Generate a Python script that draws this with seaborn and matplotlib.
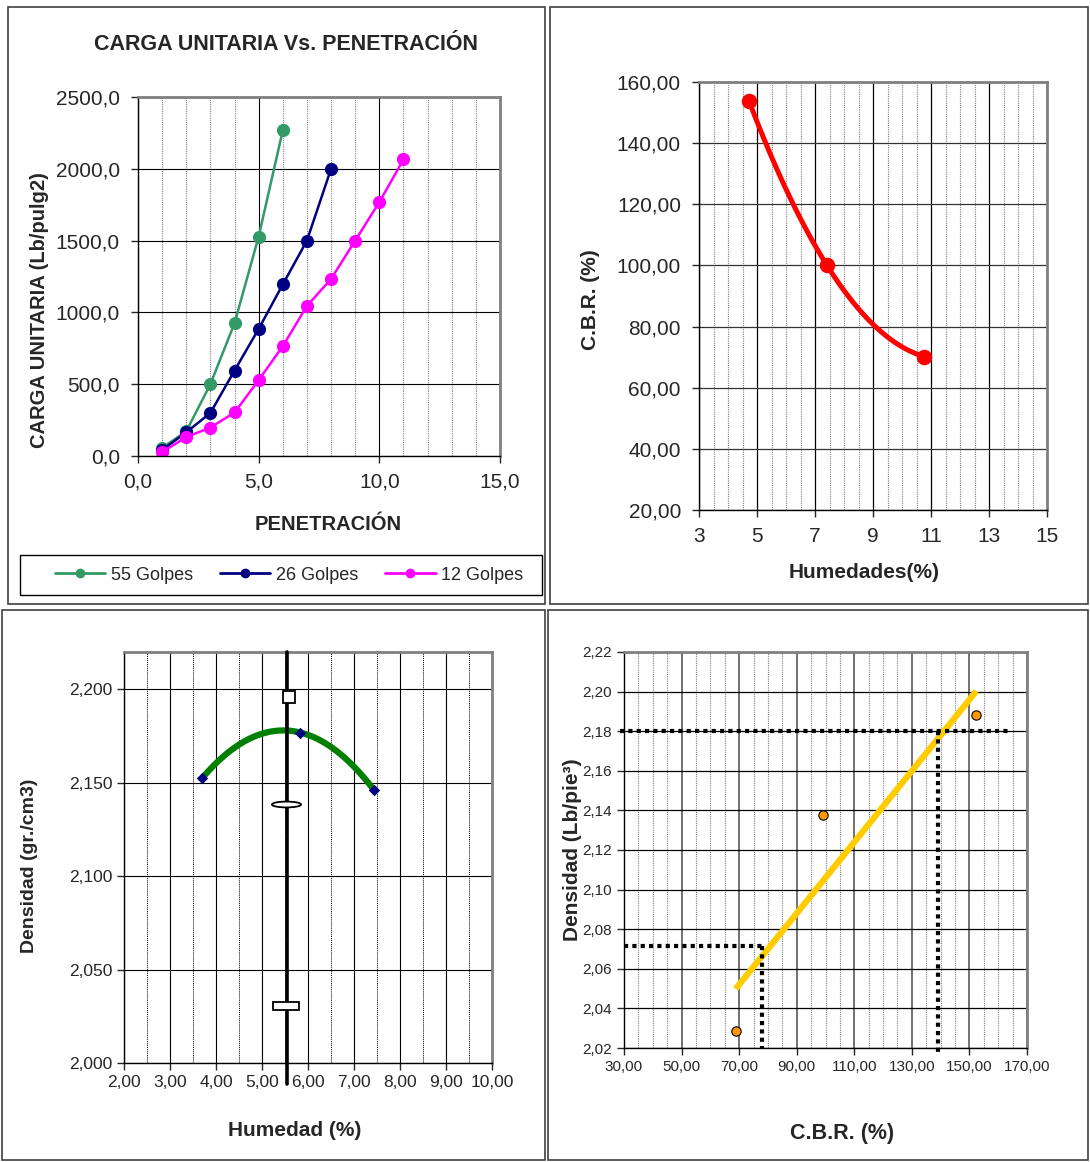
import numpy as np
import pandas as pd
import matplotlib
matplotlib.use('Agg')
import matplotlib.pyplot as plt
import seaborn as sns
from matplotlib.lines import Line2D
from matplotlib.patches import Rectangle
from matplotlib.markers import MarkerStyle
from matplotlib.path import Path
from matplotlib.transforms import Affine2D
from matplotlib.ticker import FuncFormatter, MultipleLocator

W, H = 1090, 1162

# Carga unitaria vs penetracion (3 moldes)
series = ['55 Golpes', '26 Golpes', '12 Golpes']
colores = ['#339966', '#000080', '#FF00FF']
pen_55 = [1, 2, 3, 4, 5, 6]
carga_55 = [57, 172, 500, 925, 1528, 2268]
pen_26 = [1, 2, 3, 4, 5, 6, 7, 8]
carga_26 = [42, 165, 300, 595, 885, 1195, 1500, 2000]
pen_12 = [1, 2, 3, 4, 5, 6, 7, 8, 9, 10, 11]
carga_12 = [27, 132, 198, 303, 528, 765, 1045, 1233, 1500, 1768, 2065]

# C.B.R. vs humedad
humedades = [4.72, 7.40, 10.77]
cbr = [153.9, 100.2, 70.2]

# Proctor: densidad vs humedad
humedad_proctor = [3.70, 5.83, 7.44]
densidad_proctor = [2.1525, 2.1769, 2.1459]
humedad_optima = 5.55
marcas_x = [5.58, 5.53, 5.52]
marcas_y = [2.196, 2.1384, 2.0304]

# Densidad vs C.B.R.
cbr_ptos = [68.8, 99.0, 152.4]
dens_ptos = [2.0286, 2.1375, 2.1882]
cbr_guia = [77.8, 139.0]
dens_guia = [2.0715, 2.180]
cbr_fin_guia = 163.5


def box(l, t, r, b):
    return [l / W, 1 - b / H, (r - l) / W, (b - t) / H]


def coma(dec):
    return FuncFormatter(lambda v, p: f'{v:.{dec}f}'.replace('.', ','))


def marco(ax):
    for s in ['left', 'bottom']:
        ax.spines[s].set_color('black')
        ax.spines[s].set_linewidth(1.0)
    for s in ['top', 'right']:
        ax.spines[s].set_color('#808080')
        ax.spines[s].set_linewidth(2.0)
    ax.set_axisbelow(True)
    ax.set_xlabel('')
    ax.set_ylabel('')
    ax.tick_params(which='minor', length=0)


sns.set_style('ticks')
plt.rcParams['font.family'] = ['Liberation Sans', 'DejaVu Sans']

fig = plt.figure(figsize=(W / 100, H / 100), dpi=100)

# panel borders
for l, t, r, b in [(8, 7, 545, 604), (550, 7, 1088, 604), (2, 610, 545, 1160), (548, 610, 1088, 1160)]:
    fig.add_artist(Rectangle((l / W, 1 - b / H), (r - l) / W, (b - t) / H,
                             transform=fig.transFigure, fill=False, ec='#404040', lw=1.2))

# ---- carga unitaria vs penetracion
ax1 = fig.add_axes(box(138, 97, 500, 456))
df = pd.DataFrame({
    'pen': pen_55 + pen_26 + pen_12,
    'carga': carga_55 + carga_26 + carga_12,
    'serie': [series[0]] * len(pen_55) + [series[1]] * len(pen_26) + [series[2]] * len(pen_12),
})
pal = dict(zip(series, colores))
sns.lineplot(data=df, x='pen', y='carga', hue='serie', hue_order=series, palette=pal,
             marker='o', markersize=9.5, markeredgewidth=0, linewidth=1.8, legend=False, ax=ax1)
ax1.set_xlim(0, 15)
ax1.set_ylim(0, 2500)
ax1.xaxis.set_major_locator(MultipleLocator(5))
ax1.xaxis.set_minor_locator(MultipleLocator(1))
ax1.yaxis.set_major_locator(MultipleLocator(500))
ax1.xaxis.set_major_formatter(coma(1))
ax1.yaxis.set_major_formatter(coma(1))
ax1.grid(which='major', color='black', lw=0.8)
ax1.grid(which='minor', axis='x', color='#808080', lw=0.8, ls=(0, (1, 1)))
ax1.tick_params(which='major', length=5, width=1, labelsize=15)
ax1.tick_params(axis='x', pad=7)
ax1.tick_params(axis='y', pad=8)
marco(ax1)

fig.text(286 / W, 1 - 44 / H, 'CARGA UNITARIA Vs. PENETRACIÓN', ha='center', va='center',
         fontsize=15.5, fontweight='bold')
fig.text(328 / W, 1 - 524 / H, 'PENETRACIÓN', ha='center', va='center', fontsize=14.5, fontweight='bold')
fig.text(40 / W, 1 - 310 / H, 'CARGA UNITARIA (Lb/pulg2)', ha='center', va='center', rotation=90,
         fontsize=14.5, fontweight='bold')

handles = [Line2D([], [], color=c, marker='o', markersize=6, lw=2) for c in colores]
fig.legend(handles, series, loc='center', bbox_to_anchor=(44 / W, 1 - 595 / H, 490 / W, 40 / H),
           mode='expand', ncol=3, fontsize=13, frameon=False,
           handlelength=2.8, handletextpad=0.3, borderpad=0.6, borderaxespad=0)
fig.add_artist(Rectangle((20 / W, 1 - 595 / H), 522 / W, 40 / H, transform=fig.transFigure,
                         fill=False, ec='black', lw=1.0))

# ---- C.B.R. vs humedad
ax2 = fig.add_axes(box(699, 82, 1047, 510))
sns.regplot(x=humedades, y=cbr, order=2, ci=None, truncate=True, color='#FF0000',
            scatter_kws=dict(s=125, linewidths=0, alpha=1, zorder=3),
            line_kws=dict(lw=3.6), ax=ax2)
ax2.set_xlim(3, 15)
ax2.set_ylim(20, 160)
ax2.xaxis.set_major_locator(MultipleLocator(2, offset=1))
ax2.xaxis.set_minor_locator(MultipleLocator(0.5))
ax2.yaxis.set_major_locator(MultipleLocator(20))
ax2.yaxis.set_major_formatter(coma(2))
ax2.grid(which='major', axis='x', color='black', lw=0.9)
ax2.grid(which='major', axis='y', color='#333333', lw=0.9)
ax2.grid(which='minor', axis='x', color='#808080', lw=0.8, ls=(0, (1, 1)))
ax2.tick_params(which='major', length=5, width=1, labelsize=15)
ax2.tick_params(axis='x', pad=7)
ax2.tick_params(axis='y', pad=8)
marco(ax2)

fig.text(864 / W, 1 - 573 / H, 'Humedades(%)', ha='center', va='center', fontsize=15, fontweight='bold')
fig.text(590 / W, 1 - 300 / H, 'C.B.R. (%)', ha='center', va='center', rotation=90,
         fontsize=15, fontweight='bold')

# ---- densidad vs humedad (proctor)
ax3 = fig.add_axes(box(124, 652, 492, 1063))
sns.regplot(x=humedad_proctor, y=densidad_proctor, order=2, ci=None, truncate=True, color='#008000',
            marker='D', scatter_kws=dict(s=34, color='#000080', linewidths=0, alpha=1, zorder=3),
            line_kws=dict(lw=4.5, zorder=2), ax=ax3)
ax3.set_xlim(2, 10)
ax3.set_ylim(2.0, 2.22)
ax3.xaxis.set_major_locator(MultipleLocator(1))
ax3.xaxis.set_minor_locator(MultipleLocator(0.5))
ax3.yaxis.set_major_locator(MultipleLocator(0.05))
ax3.xaxis.set_major_formatter(coma(2))
ax3.yaxis.set_major_formatter(coma(3))
ax3.grid(which='major', color='black', lw=0.8)
ax3.grid(which='minor', axis='x', color='black', lw=0.7, ls=(0, (1, 1)))
ax3.tick_params(which='major', length=5, width=1, labelsize=12.5, pad=3.5)
marco(ax3)

ax3.axvline(humedad_optima, ymin=-0.05, ymax=1, color='black', lw=2.6, clip_on=False, zorder=4)
ovalo = MarkerStyle(Path.unit_circle(), transform=Affine2D().scale(1, 0.2))
barra = MarkerStyle('s', transform=Affine2D().scale(1, 0.31))
for mk, ms, xm, ym in [('s', 8, marcas_x[0], marcas_y[0]), (ovalo, 21, marcas_x[1], marcas_y[1]),
                       (barra, 18.5, marcas_x[2], marcas_y[2])]:
    ax3.plot([xm], [ym], marker=mk, ms=ms, mfc='white', mec='black', mew=1.3, ls='none', zorder=5)

fig.text(295 / W, 1 - 1131 / H, 'Humedad (%)', ha='center', va='center', fontsize=15, fontweight='bold')
fig.text(30 / W, 1 - 866 / H, 'Densidad (gr./cm3)', ha='center', va='center', rotation=90,
         fontsize=14, fontweight='bold')

# ---- densidad vs C.B.R.
ax4 = fig.add_axes(box(624, 652, 1027, 1048))
sns.regplot(x=cbr_ptos, y=dens_ptos, ci=None, truncate=True, color='#FFCC00',
            scatter_kws=dict(s=45, color='#FF9900', edgecolors='black', linewidths=0.8, alpha=1, zorder=3),
            line_kws=dict(lw=4.5, solid_capstyle='butt', zorder=2), ax=ax4)
ax4.set_xlim(30, 170)
ax4.set_ylim(2.02, 2.22)
ax4.xaxis.set_major_locator(MultipleLocator(20, offset=10))
ax4.xaxis.set_minor_locator(MultipleLocator(5))
ax4.yaxis.set_major_locator(MultipleLocator(0.02))
ax4.xaxis.set_major_formatter(coma(2))
ax4.yaxis.set_major_formatter(coma(2))
ax4.grid(which='major', axis='x', color='#666666', lw=1.3)
ax4.grid(which='major', axis='y', color='black', lw=0.9)
ax4.grid(which='minor', axis='x', color='#808080', lw=0.8, ls=(0, (1, 1)))
ax4.tick_params(which='major', length=5, width=1, labelsize=11, pad=3.5)
marco(ax4)

x0, x1 = ax4.get_xlim()
y0, y1 = ax4.get_ylim()
guia = dict(color='black', lw=3.0, ls=(0, (1, 1)), clip_on=False, zorder=4)
ax4.plot([x0 - 1.5, cbr_fin_guia], [dens_guia[1]] * 2, **guia)
ax4.plot([cbr_guia[1]] * 2, [dens_guia[1], y0 - 0.003], **guia)
ax4.plot([x0, cbr_guia[0]], [dens_guia[0]] * 2, **guia)
ax4.plot([cbr_guia[0]] * 2, [dens_guia[0], y0], **guia)

fig.text(842 / W, 1 - 1133 / H, 'C.B.R. (%)', ha='center', va='center', fontsize=15.5, fontweight='bold')
fig.text(572 / W, 1 - 850 / H, 'Densidad (Lb/pie³)', ha='center', va='center', rotation=90,
         fontsize=15, fontweight='bold')

fig.savefig('out.png', dpi=100)
